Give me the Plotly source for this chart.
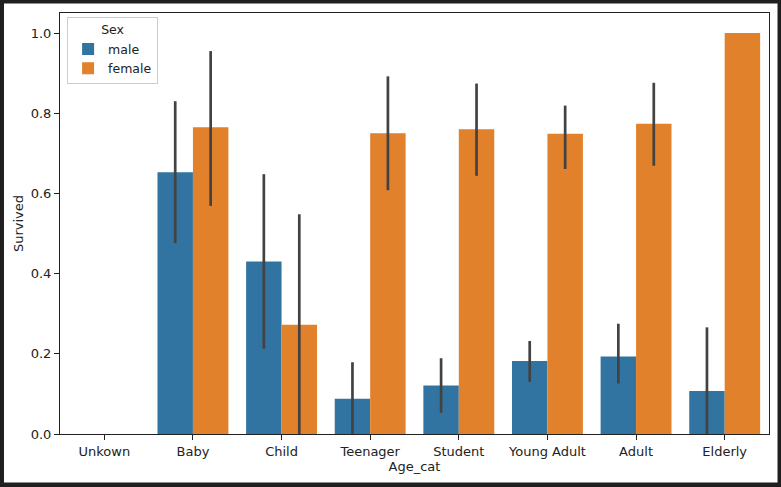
import plotly.graph_objects as go

categories = ["Unkown", "Baby", "Child", "Teenager", "Student", "Young Adult", "Adult", "Elderly"]

male_mean = [None, 0.653, 0.430, 0.088, 0.121, 0.182, 0.193, 0.107]
male_ci_low = [None, 0.476, 0.213, 0.0, 0.053, 0.130, 0.126, 0.0]
male_ci_high = [None, 0.830, 0.648, 0.179, 0.189, 0.232, 0.275, 0.266]

female_mean = [None, 0.765, 0.2727, 0.750, 0.760, 0.749, 0.774, 1.0]
female_ci_low = [None, 0.569, 0.0, 0.608, 0.644, 0.661, 0.669, 1.0]
female_ci_high = [None, 0.955, 0.548, 0.892, 0.874, 0.819, 0.876, 1.0]

y_ticks = [0.0, 0.2, 0.4, 0.6, 0.8, 1.0]


def err(mean, lo, hi):
    up = [None if m is None else h - m for m, h in zip(mean, hi)]
    dn = [None if m is None else m - l for m, l in zip(mean, lo)]
    return up, dn


mu, md = err(male_mean, male_ci_low, male_ci_high)
fu, fd = err(female_mean, female_ci_low, female_ci_high)

ERR = "#424242"
fig = go.Figure()
fig.add_trace(go.Bar(
    x=categories, y=male_mean, name="male",
    marker=dict(color="#3274a1", line=dict(width=0)),
    error_y=dict(type="data", symmetric=False, array=mu, arrayminus=md,
                 color=ERR, thickness=2.7, width=0),
))
fig.add_trace(go.Bar(
    x=categories, y=female_mean, name="female",
    marker=dict(color="#e1812c", line=dict(width=0)),
    error_y=dict(type="data", symmetric=False, array=fu, arrayminus=fd,
                 color=ERR, thickness=2.7, width=0),
))

font = "DejaVu Sans"
fig.update_layout(
    width=781, height=487,
    paper_bgcolor="#1f1f1f",
    plot_bgcolor="white",
    margin=dict(l=60, r=12, t=12.5, b=52.5, pad=0),
    barmode="group", bargap=0.2, bargroupgap=0,
    font=dict(family=font, size=13, color="#222222"),
    showlegend=True,
    legend=dict(
        x=0.01, y=0.99, xanchor="left", yanchor="top",
        bgcolor="white", bordercolor="#cccccc", borderwidth=1,
        title=dict(text="Sex", side="top center", font=dict(size=12.5)),
        font=dict(size=12.5),
        tracegroupgap=0,
    ),
    shapes=[dict(
        type="rect", xref="paper", yref="paper",
        x0=-0.079, x1=1.012, y0=-0.115, y1=1.0225,
        fillcolor="white", line=dict(width=0), layer="below",
    )],
)
fig.update_xaxes(
    type="category", categoryorder="array", categoryarray=categories,
    range=[-0.5, 7.5],
    showline=True, linecolor="#222222", linewidth=1, mirror=True,
    ticks="outside", ticklen=5, tickcolor="#222222",
    showgrid=False, zeroline=False,
    title=dict(text="Age_cat", standoff=4, font=dict(size=13)),
    tickfont=dict(size=13),
)
fig.update_yaxes(
    range=[0, 1.05],
    tickvals=y_ticks, tickformat=".1f",
    showline=True, linecolor="#222222", linewidth=1, mirror=True,
    ticks="outside", ticklen=5, tickcolor="#222222",
    showgrid=False, zeroline=False,
    title=dict(text="Survived", standoff=4, font=dict(size=13)),
    tickfont=dict(size=13),
)

fig.write_html(
    "out.html",
    config={"displayModeBar": False},
    post_script="document.body.style.margin='0px';document.body.style.overflow='hidden';",
)
